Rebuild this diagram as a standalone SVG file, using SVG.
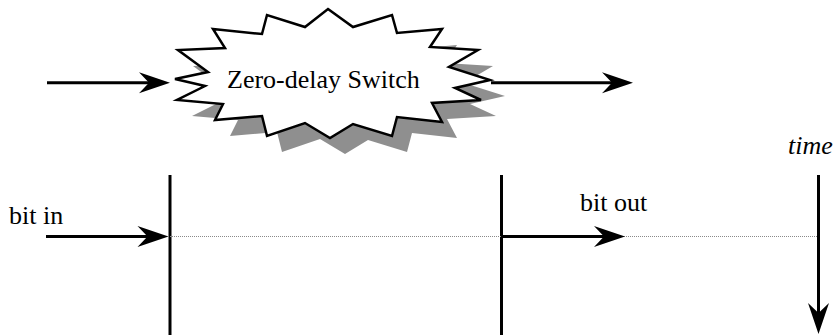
<svg xmlns="http://www.w3.org/2000/svg" width="833" height="335" viewBox="0 0 833 335">
<style>
  .lbl { font-family: "Liberation Serif", "Times New Roman", serif; font-size: 26px; fill: #000; }
  .it { font-style: italic; }
  .ln { stroke: #000; stroke-width: 3; fill: none; }
  .arr { stroke: #000; stroke-width: 3; fill: none; marker-end: url(#ah); }
  .dot { stroke: #8a8a8a; stroke-width: 1; stroke-dasharray: 1 1; fill: none; }
  .star { fill: #fff; stroke: #000; stroke-width: 2.5; stroke-linejoin: miter; }
  .shadow { fill: #8f8f8f; stroke: none; }
</style>
<defs>
  <marker id="ah" markerUnits="userSpaceOnUse" viewBox="-32 -11 33 22" markerWidth="33" markerHeight="22" refX="-20" refY="0" orient="auto">
    <path d="M0,0 L-31,-10.5 L-21,0 L-31,10.5 Z" fill="#000"/>
  </marker>
  <polygon id="starShape" points="328,9 353,27 392,15 397,33 442,29 430,47 478,50 449,67 490,80 455,88 481,100 432,103 442,122 397,117 392,136 353,124 330,138 305,123 267,136 262,116 215,120 223,104 177,100 205,86 175,79 208,72 178,50 225,48 213,29 262,34 267,15 305,27"/>
</defs>
<rect width="833" height="335" fill="#fff"/>
<g id="switch">
  <use href="#starShape" class="shadow" transform="translate(15,16)"/>
  <use href="#starShape" class="star"/>
  <text class="lbl" x="227" y="88">Zero-delay Switch</text>
</g>
<g id="timeline-in">
  <line class="ln" x1="170" y1="175" x2="170" y2="335"/>
</g>
<g id="timeline-out">
  <line class="ln" x1="501.5" y1="175" x2="501.5" y2="335"/>
</g>
<g id="label-bit-in"><text class="lbl" x="9" y="224">bit in</text></g>
<g id="label-bit-out"><text class="lbl" x="580" y="211">bit out</text></g>
<g id="label-time"><text class="lbl it" x="788" y="154">time</text></g>
<g id="connectors">
  <line class="dot" x1="170" y1="236.5" x2="818" y2="236.5"/>
  <line class="arr" x1="47" y1="82.7" x2="150" y2="82.7"/>
  <line class="arr" x1="491" y1="82.7" x2="613" y2="82.7"/>
  <line class="arr" x1="46" y1="236.5" x2="148.5" y2="236.5"/>
  <line class="arr" x1="501.5" y1="236.5" x2="605" y2="236.5"/>
  <line class="arr" x1="818.5" y1="175" x2="818.5" y2="314"/>
</g>
</svg>
